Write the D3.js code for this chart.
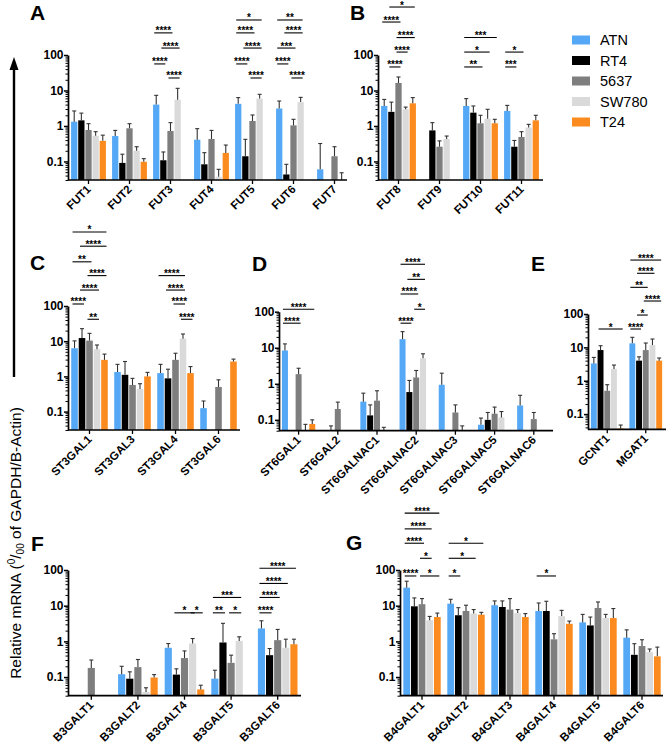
<!DOCTYPE html>
<html>
<head>
<meta charset="utf-8">
<script src="https://cdn.jsdelivr.net/npm/d3@7"></script>
<style>
  body { margin: 0; background: #fff; }
  svg { display: block; font-family: "Liberation Sans", Arial, sans-serif; }
  .axis path, .axis line { stroke: #000; }
</style>
</head>
<body>
<svg id="chart" width="666" height="746"></svg>
<script>
// cell lines and colours
var series = ["ATN", "RT4", "5637", "SW780", "T24"];
var colors = ["#54a8f5", "#000000", "#7e7e7e", "#dadada", "#fb8b1f"];

// 0 = no bar drawn
var groupsA = ["FUT1", "FUT2", "FUT3", "FUT4", "FUT5", "FUT6", "FUT7"];
var meanA = [
  [1.32, 1.44, 0.77, 0.53, 0.38],
  [0.52, 0.091, 0.86, 0.2, 0.098],
  [4.0, 0.108, 0.72, 5.5, 0],
  [0.41, 0.083, 0.43, 0.037, 0.174],
  [4.2, 0.14, 1.38, 5.9, 0],
  [3.1, 0.043, 1.04, 4.7, 0],
  [0.06, 0, 0.14, 0, 0]
];
var errA = [
  [2.65, 2.3, 1.16, 0.69, 0.55],
  [0.75, 0.16, 1.16, 0.26, 0.12],
  [7.3, 0.185, 1.24, 11.5, 0],
  [0.84, 0.177, 0.75, 0.06, 0.29],
  [6.3, 0.42, 2.04, 7.8, 0],
  [5.05, 0.083, 1.54, 6.4, 0],
  [0.32, 0, 0.26, 0.048, 0]
];
// [group, from, to, height, stars]
var sigA = [
  [2, 0, 2, 420, "****"], [2, 1, 3, 157, "****"], [2, 0, 1, 56, "****"], [2, 2, 3, 22.5, "****"],
  [4, 0, 3, 970, "*"], [4, 0, 2, 420, "****"], [4, 1, 3, 157, "****"], [4, 0, 1, 56, "****"], [4, 2, 3, 22.5, "****"],
  [5, 0, 3, 970, "**"], [5, 1, 3, 420, "****"], [5, 0, 2, 157, "***"], [5, 0, 1, 56, "****"], [5, 2, 3, 22.5, "****"]
];

var groupsB = ["FUT8", "FUT9", "FUT10", "FUT11"];
var meanB = [
  [3.66, 2.5, 16.3, 2.95, 4.35],
  [0, 0.75, 0.26, 0.43, 0],
  [3.66, 2.37, 1.19, 1.6, 1.19],
  [2.65, 0.26, 0.49, 0.9, 1.44]
];
var errB = [
  [5.6, 4.7, 24, 3.4, 6.3],
  [0, 1.24, 0.38, 0.52, 0],
  [5.9, 3.66, 2.0, 2.95, 1.54],
  [3.8, 0.39, 0.69, 1.11, 2.0]
];
var sigB = [
  [0, 1, 4, 2250, "*"], [0, 0, 2, 850, "****"], [0, 2, 4, 310, "****"], [0, 2, 3, 121, "****"], [0, 1, 2, 46, "****"],
  [2, 0, 4, 310, "***"], [2, 0, 3, 121, "*"], [2, 0, 2, 46, "**"],
  [3, 0, 2, 121, "*"], [3, 0, 1, 46, "***"]
];

var groupsC = ["ST3GAL1", "ST3GAL3", "ST3GAL4", "ST3GAL6"];
var meanC = [
  [6.3, 12.3, 10.4, 5.9, 2.95],
  [1.33, 1.11, 0.57, 0.44, 1.0],
  [1.24, 0.88, 2.95, 11.8, 1.24],
  [0.125, 0, 0.5, 0, 2.65]
];
var errC = [
  [10.2, 22.7, 16.7, 7.8, 4.3],
  [2.2, 2.65, 0.88, 0.62, 1.3],
  [2.2, 1.6, 4.55, 16, 1.9],
  [0.2, 0, 0.8, 0, 3.1]
];
var sigC = [
  [0, 0, 4, 12700, "*"], [0, 1, 4, 5000, "****"], [0, 0, 2, 1800, "**"], [0, 2, 4, 730, "****"],
  [0, 1, 3, 284, "****"], [0, 0, 1, 114, "****"], [0, 2, 3, 42, "**"],
  [2, 0, 3, 730, "****"], [2, 1, 3, 284, "****"], [2, 2, 3, 114, "****"], [2, 3, 4, 42, "****"]
];

var groupsD = ["ST6GAL1", "ST6GAL2", "ST6GALNAC1", "ST6GALNAC2", "ST6GALNAC3", "ST6GALNAC5", "ST6GALNAC6"];
var meanD = [
  [8.4, 0, 1.85, 0, 0.077],
  [0, 0, 0.2, 0, 0],
  [0.32, 0.133, 0.34, 0, 0],
  [17.3, 0.59, 1.5, 5.1, 0],
  [0.94, 0, 0.16, 0, 0],
  [0.073, 0.1, 0.148, 0.117, 0],
  [0.25, 0, 0.105, 0, 0]
];
var errD = [
  [12.8, 0, 2.7, 0.075, 0.1],
  [0, 0.068, 0.31, 0, 0],
  [0.55, 0.26, 0.64, 0.062, 0],
  [28, 1.24, 2.34, 6.8, 0],
  [1.97, 0, 0.26, 0.068, 0],
  [0.112, 0.16, 0.226, 0.17, 0],
  [0.48, 0, 0.16, 0, 0]
];
var sigD = [
  [0, 0, 4, 117, "****"], [0, 0, 2, 48, "****"],
  [3, 0, 3, 2070, "****"], [3, 1, 3, 790, "**"], [3, 0, 2, 310, "****"], [3, 2, 3, 117, "*"], [3, 0, 1, 48, "****"]
];

var groupsE = ["GCNT1", "MGAT1"];
var meanE = [
  [3.3, 8.3, 0.5, 2.24, 0.037],
  [13.2, 4.0, 8.3, 11.7, 4.0]
];
var errE = [
  [5.0, 11.2, 0.76, 2.95, 0.047],
  [20, 5.2, 13.5, 17.8, 4.8]
];
var sigE = [
  [0, 1, 4, 35.5, "*"],
  [1, 0, 4, 4140, "****"], [1, 1, 3, 1660, "****"], [1, 0, 2, 630, "**"], [1, 2, 4, 245, "****"],
  [1, 1, 2, 93, "*"], [1, 0, 1, 35.5, "****"]
];

var groupsF = ["B3GALT1", "B3GALT2", "B3GALT4", "B3GALT5", "B3GALT6"];
var meanF = [
  [0, 0, 0.18, 0, 0],
  [0.12, 0.09, 0.19, 0.038, 0.097],
  [0.66, 0.117, 0.34, 0.87, 0.045],
  [0.09, 0.93, 0.25, 1.03, 0],
  [2.3, 0.41, 1.08, 0.66, 0.83]
];
var errF = [
  [0, 0, 0.3, 0, 0],
  [0.2, 0.14, 0.31, 0.05, 0.117],
  [0.87, 0.17, 0.54, 1.2, 0.059],
  [0.155, 3.2, 0.41, 1.34, 0],
  [3.77, 0.63, 2.16, 1.15, 1.15]
];
var sigF = [
  [2, 1, 3, 6.3, "*"], [2, 3, 4, 6.3, "*"],
  [3, 0, 3, 17, "***"], [3, 0, 1, 6.3, "**"], [3, 2, 3, 6.3, "*"],
  [4, 0, 4, 112, "****"], [4, 0, 3, 42, "****"], [4, 0, 2, 17, "****"], [4, 0, 1, 6.3, "****"]
];

var groupsG = ["B4GALT1", "B4GALT2", "B4GALT3", "B4GALT4", "B4GALT5", "B4GALT6"];
var meanG = [
  [32, 9.6, 11, 3.9, 4.8],
  [11.4, 5.4, 7.1, 6.0, 5.6],
  [10.3, 9.2, 7.8, 6.2, 4.8],
  [7.1, 7.1, 1.14, 5.1, 3.1],
  [3.4, 2.8, 8.6, 4.5, 4.5],
  [1.27, 0.42, 0.74, 0.5, 0.38]
];
var errG = [
  [48.5, 16.5, 15.8, 5.0, 6.2],
  [15.1, 8.8, 10.3, 7.8, 6.5],
  [13.6, 13.6, 15.8, 7.8, 6.0],
  [11.9, 13.3, 1.64, 7.4, 3.7],
  [5.7, 4.8, 12.7, 5.7, 8.3],
  [2.1, 0.86, 1.11, 0.61, 0.69]
];
var sigG = [
  [0, 0, 4, 3920, "****"], [0, 0, 3, 1420, "****"], [0, 0, 2, 563, "****"], [0, 2, 3, 213, "*"],
  [0, 0, 1, 68, "****"], [0, 2, 4, 68, "*"],
  [1, 0, 4, 563, "*"], [1, 0, 3, 213, "*"], [1, 0, 1, 68, "*"],
  [3, 0, 2, 68, "*"]
];

// panel layout
var panels = [
  {id: "A", groups: groupsA, mean: meanA, err: errA, sig: sigA, x0: 68, step: 41, xEnd: 347, lo: 0.03, yBot: 180, yTop: 55, lx: 30, ly: 20},
  {id: "B", groups: groupsB, mean: meanB, err: errB, sig: sigB, x0: 378, step: 41, xEnd: 543, lo: 0.03, yBot: 180, yTop: 55, lx: 350, ly: 20},
  {id: "C", groups: groupsC, mean: meanC, err: errC, sig: sigC, x0: 68, step: 43, xEnd: 240, lo: 0.03, yBot: 430, yTop: 306, lx: 30, ly: 270},
  {id: "D", groups: groupsD, mean: meanD, err: errD, sig: sigD, x0: 279, step: 39.2, xEnd: 553, lo: 0.05, yBot: 430.7, yTop: 311.7, lx: 252, ly: 271},
  {id: "E", groups: groupsE, mean: meanE, err: errE, sig: sigE, x0: 588, step: 38.5, xEnd: 666, lo: 0.035, yBot: 429.3, yTop: 314, lx: 531, ly: 271},
  {id: "F", groups: groupsF, mean: meanF, err: errF, sig: sigF, x0: 68, step: 46.6, xEnd: 301, lo: 0.03, yBot: 695.7, yTop: 570, lx: 31, ly: 551},
  {id: "G", groups: groupsG, mean: meanG, err: errG, sig: sigG, x0: 400, step: 44, xEnd: 663, lo: 0.03, yBot: 695.7, yTop: 570, lx: 346, ly: 550}
];

var svg = d3.select("#chart");

function drawPanel(p) {
  var g = svg.append("g");

  var y = d3.scaleLog().domain([p.lo, 100]).range([p.yBot, p.yTop]);
  var x = d3.scaleBand().domain(p.groups).range([p.x0, p.x0 + p.step * p.groups.length]);
  var w = p.step * 0.85;
  var xs = d3.scaleBand().domain(series).range([-w / 2, w / 2]).paddingInner(0.12);

  // bars + error bars
  p.groups.forEach(function(name, gi) {
    var cx = x(name) + x.bandwidth() / 2;
    series.forEach(function(s, si) {
      var m = p.mean[gi][si], e = p.err[gi][si];
      var bx = cx + xs(s);
      var top = m > p.lo ? y(m) : p.yBot;
      if (m > p.lo) {
        g.append("rect")
          .attr("x", bx).attr("y", top)
          .attr("width", xs.bandwidth()).attr("height", p.yBot - top)
          .attr("fill", colors[si]);
      }
      if (e > 0) {
        var ex = bx + xs.bandwidth() / 2;
        g.append("line").attr("x1", ex).attr("x2", ex).attr("y1", top).attr("y2", y(e))
          .attr("stroke", "#333").attr("stroke-width", 1.1);
        g.append("line").attr("x1", ex - 2).attr("x2", ex + 2).attr("y1", y(e)).attr("y2", y(e))
          .attr("stroke", "#333").attr("stroke-width", 1.1);
      }
    });
  });

  // significance brackets
  p.sig.forEach(function(b) {
    var cx = x(p.groups[b[0]]) + x.bandwidth() / 2;
    var a = cx + xs(series[b[1]]) + xs.bandwidth() / 2;
    var c = cx + xs(series[b[2]]) + xs.bandwidth() / 2;
    var yy = y(b[3]);
    g.append("line").attr("x1", a - 2).attr("x2", c + 2).attr("y1", yy).attr("y2", yy)
      .attr("stroke", "#000").attr("stroke-width", 1.1);
    g.append("text").attr("x", (a + c) / 2).attr("y", yy + 1.5)
      .attr("text-anchor", "middle").attr("font-size", 10).attr("font-weight", "bold")
      .text(b[4]);
  });

  // y axis, major + minor ticks
  var minors = [];
  [0.01, 0.1, 1, 10].forEach(function(d) {
    for (var k = 2; k <= 9; k++) { if (k * d >= p.lo && k * d < 100) minors.push(k * d); }
  });
  g.append("g").attr("class", "axis").attr("transform", "translate(" + p.x0 + ",0)")
    .call(d3.axisLeft(y).tickValues(minors).tickSize(2.5).tickFormat(""))
    .call(function(a) { a.select(".domain").remove(); a.selectAll("line").attr("stroke-width", 1); });
  var ya = g.append("g").attr("class", "axis").attr("transform", "translate(" + p.x0 + ",0)")
    .call(d3.axisLeft(y).tickValues([0.1, 1, 10, 100]).tickSize(4).tickSizeOuter(0)
      .tickFormat(function(d) { return d < 1 ? "0.1" : d3.format("d")(d); }));
  ya.select(".domain").attr("stroke-width", 1.7);
  ya.selectAll(".tick line").attr("stroke-width", 1.5);
  ya.selectAll("text").attr("font-size", 12).attr("font-weight", "bold")
    .attr("font-family", "Liberation Sans, Arial, sans-serif").attr("fill", "#000").attr("x", -4.5);

  // x axis
  var xa = g.append("g").attr("class", "axis").attr("transform", "translate(0," + p.yBot + ")")
    .call(d3.axisBottom(x).tickSize(4).tickSizeOuter(0));
  xa.select(".domain").remove();
  xa.append("line").attr("x1", p.x0).attr("x2", p.xEnd).attr("stroke", "#000").attr("stroke-width", 1.7);
  xa.selectAll(".tick line").attr("stroke-width", 1.3);
  xa.selectAll(".tick text")
    .attr("font-size", 11.5).attr("font-weight", "bold").attr("fill", "#000")
    .attr("font-family", "Liberation Sans, Arial, sans-serif")
    .attr("text-anchor", "end").attr("y", 0).attr("dy", null)
    .attr("transform", "translate(3,10) rotate(-45)");

  // panel letter
  svg.append("text").attr("x", p.lx).attr("y", p.ly)
    .attr("font-size", 21).attr("font-weight", "bold").text(p.id);
}

panels.forEach(drawPanel);

// legend
var leg = svg.append("g");
series.forEach(function(s, i) {
  var cy = 40 + i * 20.5;
  leg.append("rect").attr("x", 572).attr("y", cy - 4.5).attr("width", 18).attr("height", 9).attr("fill", colors[i]);
  leg.append("text").attr("x", 600).attr("y", cy + 5).attr("font-size", 14.5).text(s);
});

// shared y title with arrow
svg.append("line").attr("x1", 14).attr("x2", 14).attr("y1", 377).attr("y2", 66)
  .attr("stroke", "#000").attr("stroke-width", 2.4);
svg.append("path").attr("d", "M9.5,70 L14,57 L18.5,70 Z").attr("fill", "#000");
var title = svg.append("text")
  .attr("transform", "translate(21,543) rotate(-90)")
  .attr("text-anchor", "middle").attr("font-size", 15.5);
title.append("tspan").text("Relative mRNA (");
title.append("tspan").attr("font-size", 10).attr("dy", -6).text("0");
title.append("tspan").attr("dy", 6).text("/");
title.append("tspan").attr("font-size", 10).attr("dy", 3).text("00");
title.append("tspan").attr("dy", -3).text(" of GAPDH/B-Actin)");
</script>
</body>
</html>
